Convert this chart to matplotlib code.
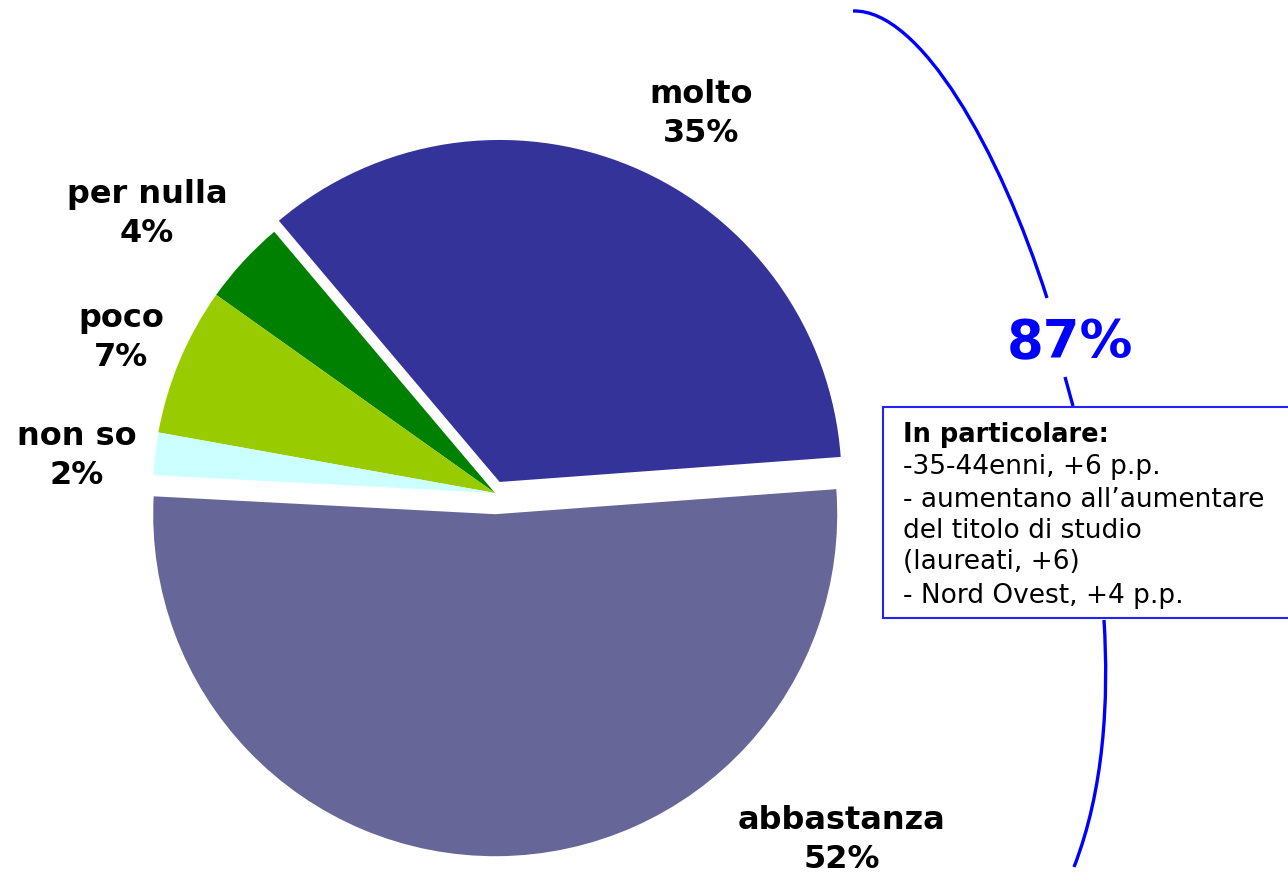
import matplotlib
matplotlib.use("Agg")
import matplotlib.pyplot as plt
from matplotlib.patches import Rectangle, PathPatch
from matplotlib.path import Path

# ---- data ----
categories = ["molto", "per nulla", "poco", "non so", "abbastanza"]
values = [35, 4, 7, 2, 52]
pct_labels = ["35%", "4%", "7%", "2%", "52%"]
colors = ["#333399", "#008000", "#99CC00", "#CCFFFF", "#666699"]
explode = [0.035, 0, 0, 0, 0.062]
total_label = "87%"
box_title = "In particolare:"
box_lines = ["-35-44enni, +6 p.p.",
             "- aumentano all\u2019aumentare",
             "del titolo di studio",
             "(laureati, +6)",
             "- Nord Ovest, +4 p.p."]

W, H = 1288, 876
fig = plt.figure(figsize=(W / 100, H / 100), dpi=100)
plt.rcParams['font.family'] = ['DejaVu Sans']

# pie axes: centre (495,493) px, radius 342 px
cx, cy, R = 495, 493, 342
half = 1.5 * R
axp = fig.add_axes([(cx - half) / W, (H - cy - half) / H, 2 * half / W, 2 * half / H])
axp.pie(values, colors=colors, explode=explode, startangle=4.2, counterclock=True,
        radius=1.0, wedgeprops=dict(linewidth=0, antialiased=True))
axp.set_xlim(-1.5, 1.5)
axp.set_ylim(-1.5, 1.5)
axp.set_aspect('auto')
axp.axis('off')

# overlay axes in pixel coordinates
ax = fig.add_axes([0, 0, 1, 1])
ax.set_xlim(0, W)
ax.set_ylim(H, 0)
ax.axis('off')
ax.patch.set_alpha(0)

# labels (centre x, baseline of first line)
label_pos = {"molto": (701, 103), "per nulla": (147, 203), "poco": (121, 327),
             "non so": (77, 445), "abbastanza": (842, 829)}
for cat, pl in zip(categories, pct_labels):
    x, y = label_pos[cat]
    ax.text(x, y, cat, ha='center', va='baseline', fontsize=23, fontweight='bold', color='black')
    ax.text(x, y + 39, pl, ha='center', va='baseline', fontsize=23, fontweight='bold', color='black')

blue = "#0000FF"
# bracket curve: top part
top = Path([(853, 11), (920, 9), (1000, 150), (1047, 298)],
           [Path.MOVETO, Path.CURVE4, Path.CURVE4, Path.CURVE4])
ax.add_patch(PathPatch(top, fill=False, edgecolor=blue, lw=2.4, capstyle='butt'))
ax.plot([1065, 1073], [377, 406], color=blue, lw=2.4, solid_capstyle='butt')
bot = Path([(1104, 620), (1109, 700), (1104, 790), (1074, 867)],
           [Path.MOVETO, Path.CURVE4, Path.CURVE4, Path.CURVE4])
ax.add_patch(PathPatch(bot, fill=False, edgecolor=blue, lw=2.4, capstyle='butt'))

ax.text(1070, 358, total_label, ha='center', va='baseline', fontsize=38,
        fontweight='bold', color=blue)

# box
ax.add_patch(Rectangle((883, 407), 407, 211, facecolor='white', edgecolor='#2222FF',
                       lw=1.5, zorder=3, clip_on=False))
ax.text(903, 442, box_title, ha='left', va='baseline', fontsize=18.5, fontweight='bold',
        color='black', zorder=4)
bases = [474, 507, 538, 569, 603]
for t, b in zip(box_lines, bases):
    ax.text(903, b, t, ha='left', va='baseline', fontsize=19, color='black', zorder=4)

fig.savefig("out.png", dpi=100, facecolor='white')
